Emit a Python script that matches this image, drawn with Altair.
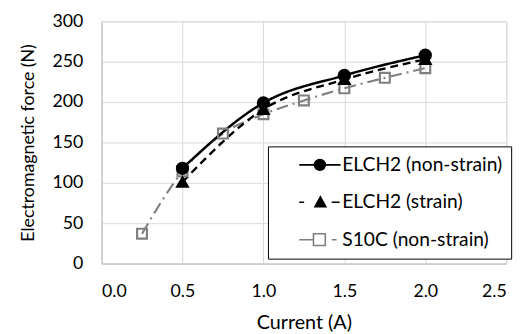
import altair as alt
import pandas as pd

series = ["ELCH2 (non-strain)", "ELCH2 (strain)", "S10C (non-strain)"]
elch_ns_x = [0.5, 1.0, 1.5, 2.0]
elch_ns_y = [118, 199, 233, 258]
elch_s_x = [0.5, 1.0, 1.5, 2.0]
elch_s_y = [101, 191, 228, 253]
s10c_x = [0.25, 0.5, 0.75, 1.0, 1.25, 1.5, 1.75, 2.0]
s10c_y = [37, 114, 161, 185, 202, 217, 230, 242]

rows = []
for name, xs, ys in [(series[2], s10c_x, s10c_y), (series[1], elch_s_x, elch_s_y), (series[0], elch_ns_x, elch_ns_y)]:
    for x, y in zip(xs, ys):
        rows.append({"series": name, "current": x, "force": y})
df = pd.DataFrame(rows)

FONT = "Lato"
colors = ["#000000", "#000000", "#808080"]

# legend glyphs: line segment(s) + marker, as custom symbol paths
legend_paths = [
    "M2.6,0H5.7M7.9,0H11M5.7,0A1.1,1.1 0 1,1 7.9,0A1.1,1.1 0 1,1 5.7,0Z",
    "M2.6,0H3.6M9.2,0H10.8M6.9,-1.1L8,0.9L5.8,0.9Z",
    "M2.6,0H5.5M9.2,0H10.2M5.5,-1.2H7.9V1.2H5.5Z",
]

legend = alt.Legend(orient="none", legendX=169, legendY=127, title=None,
                    strokeColor="black", fillColor="white", padding=9,
                    labelFontSize=19.5, labelFont=FONT, labelColor="black", labelLimit=400,
                    symbolSize=100, rowPadding=17, symbolStrokeWidth=1.6,
                    labelOffset=47, labelExpr="datum.label + '    '")

xenc = alt.X("current:Q", title="Current (A)",
             scale=alt.Scale(domain=[0, 2.5], nice=False),
             axis=alt.Axis(values=[0, 0.5, 1.0, 1.5, 2.0, 2.5], format=".1f",
                           titleFontSize=20, labelPadding=19, titlePadding=13))
yenc = alt.Y("force:Q", title="Electromagnetic force (N)",
             scale=alt.Scale(domain=[0, 300], nice=False),
             axis=alt.Axis(values=[0, 50, 100, 150, 200, 250, 300],
                           titleFontSize=18, labelPadding=19, titlePadding=15))

def color(leg=None):
    return alt.Color("series:N", scale=alt.Scale(domain=series, range=colors), legend=leg, sort=series)

lines = alt.Chart(df).mark_line(interpolate="monotone").encode(
    x=xenc, y=yenc, color=color(),
    strokeDash=alt.StrokeDash("series:N", scale=alt.Scale(domain=series, range=[[1, 0], [8, 5], [12, 5, 2, 5]]), legend=None, sort=series),
    strokeWidth=alt.StrokeWidth("series:N", scale=alt.Scale(domain=series, range=[2.5, 2.2, 1.8]), legend=None, sort=series),
)
points = alt.Chart(df).mark_point(filled=False, opacity=1).encode(
    x=xenc, y=yenc, color=color(),
    shape=alt.Shape("series:N", scale=alt.Scale(domain=series, range=["circle", "triangle-up", "square"]), legend=None, sort=series),
    fill=alt.Fill("series:N", scale=alt.Scale(domain=series, range=["#000000", "#000000", "transparent"]), legend=None, sort=series),
    size=alt.Size("series:N", scale=alt.Scale(domain=series, range=[121, 100, 144]), legend=None, sort=series),
    strokeWidth=alt.StrokeWidth("series:N", scale=alt.Scale(domain=series, range=[1, 1, 1.3]), legend=None, sort=series),
)
legend_layer = alt.Chart(df).transform_filter("datum.force < 0").mark_point(filled=False, opacity=1).encode(
    color=color(legend),
    shape=alt.Shape("series:N", scale=alt.Scale(domain=series, range=legend_paths), legend=legend, sort=series),
    fill=alt.Fill("series:N", scale=alt.Scale(domain=series, range=["#000000", "#000000", "#ffffff"]), legend=legend, sort=series),
)

chart = alt.layer(lines, points, legend_layer).resolve_scale(
    color="independent", shape="independent", fill="independent",
).properties(
    width=411, height=246,
    autosize=alt.AutoSizeParams(type="none"),
    padding={"left": 95, "top": 11, "right": 15, "bottom": 69},
).configure_axis(
    labelFont=FONT, titleFont=FONT, labelFontSize=18,
    labelColor="black", titleColor="black", titleFontWeight="normal",
    gridColor="#d9d9d9", domainColor="#bfbfbf", tickSize=0,
).configure_view(stroke="#d9d9d9")

chart.save("out.html", embed_options={"renderer": "svg", "actions": False})
